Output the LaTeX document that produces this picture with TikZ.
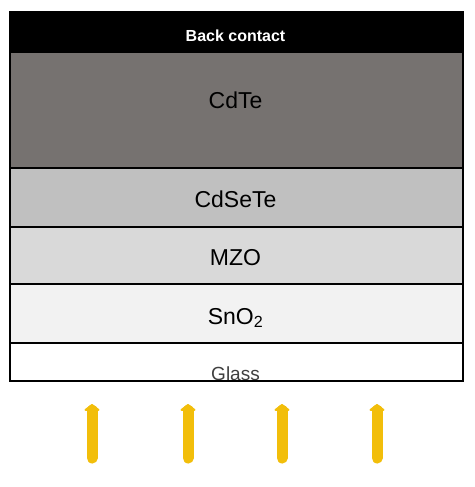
\documentclass[tikz,border=0pt]{standalone}
\usepackage{fontspec}
\setmainfont{Liberation Sans}
\usepackage{xcolor}
\usetikzlibrary{arrows.meta}
\definecolor{cdtegray}{RGB}{118,114,112}
\definecolor{cdsetegray}{RGB}{192,192,192}
\definecolor{mzogray}{RGB}{217,217,217}
\definecolor{snogray}{RGB}{242,242,242}
\definecolor{sungold}{RGB}{242,190,10}
\tikzset{
  layer/.style={draw=black,line width=1.6pt,rectangle,inner sep=0pt,
    minimum width=453pt,anchor=north west},
  lbl/.style={anchor=base,inner sep=0pt,font=\fontsize{23}{27}\selectfont},
  sunray/.style={sungold,line width=11pt,line cap=round,-{Triangle[width=18pt,length=7pt,round]}}
}
\begin{document}
\begin{tikzpicture}[x=1pt,y=-1pt]
        \useasboundingbox[fill=white] (0,0) rectangle (474,487);
        \node[layer,fill=black,minimum height=40pt] (contact) at (9,11) {};
        \node[layer,fill=cdtegray,minimum height=116pt] (cdte) at (9,51) {};
        \node[layer,fill=cdsetegray,minimum height=59pt] (cdsete) at (9,167) {};
        \node[layer,fill=mzogray,minimum height=57pt] (mzo) at (9,226) {};
        \node[layer,fill=snogray,minimum height=59pt] (sno) at (9,283) {};
        \begin{scope}
          \clip (9,342) rectangle (462,380);
          \node[lbl,text=black!75,font=\fontsize{19}{22}\selectfont] (glasslbl) at (235.5,380) {Glass};
        \end{scope}
        \node[layer,minimum height=38pt] (glass) at (9,342) {};
        \node[lbl,text=white,font=\bfseries\fontsize{16}{19}\selectfont] (contactlbl) at (235.5,42) {Back contact};
        \node[lbl] (cdtelbl) at (235.5,108) {CdTe};
        \node[lbl] (cdsetelbl) at (235.5,207) {CdSeTe};
        \node[lbl] (mzolbl) at (235.5,265) {MZO};
        \node[lbl] (snolbl) at (235.5,324) {SnO\textsubscript{2}};
        \foreach \i/\x in {1/92,2/188,3/282,4/377}{
          \coordinate (raybot\i) at (\x,458);
          \coordinate (raytop\i) at (\x,404);
          \draw[sunray] (raybot\i) -- (raytop\i);
        }
\end{tikzpicture}
\end{document}
